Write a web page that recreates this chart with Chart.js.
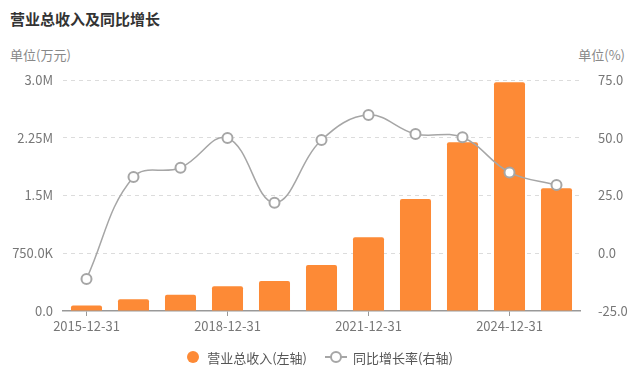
<!DOCTYPE html>
<html>
<head>
<meta charset="utf-8">
<script src="https://cdn.jsdelivr.net/npm/chart.js@4"></script>
<style>
  html, body { margin: 0; padding: 0; background: #fff; }
  body { width: 640px; height: 377px; position: relative; overflow: hidden;
    font-family: "Noto Sans CJK SC", "Noto Sans", sans-serif; }
  canvas { position: absolute; left: 0; top: 0; }
  .title { position: absolute; left: 10px; top: 8px; font-size: 15px; font-weight: bold; color: #333; }
  .unit { position: absolute; top: 45px; font-size: 13px; color: #888; }
  .legend { position: absolute; top: 346px; left: 0; width: 640px; text-align: center;
    font-size: 13px; color: #555; }
  .legend span { display: inline-block; vertical-align: middle; }
  .dot { width: 12px; height: 12px; border-radius: 50%; background: #fd8a36; margin-right: 8px; }
  .lineicon { position: relative; width: 22px; height: 12px; margin: 0 6px 0 18px; }
  .lineicon:before { content: ''; position: absolute; left: 0; right: 0; top: 5px; border-top: 2px solid #a6a6a6; }
  .lineicon:after { content: ''; position: absolute; left: 5px; top: 0; width: 8px; height: 8px;
    border: 2px solid #a6a6a6; border-radius: 50%; background: #fff; }
</style>
</head>
<body>
<div class="title">营业总收入及同比增长</div>
<div class="unit" style="left:10px">单位(万元)</div>
<div class="unit" style="right:15px">单位(%)</div>
<canvas id="chart" width="640" height="377"></canvas>
<div class="legend">
  <span class="dot"></span><span>营业总收入(左轴)</span><span class="lineicon"></span><span>同比增长率(右轴)</span>
</div>
<script>
// categories and values
const years = ['2015-12-31', '2016-12-31', '2017-12-31', '2018-12-31', '2019-12-31', '2020-12-31',
  '2021-12-31', '2022-12-31', '2023-12-31', '2024-12-31', '2025-12-31'];
const revenue = [70000, 152000, 212000, 321000, 390000, 597000, 957000, 1455000, 2190000, 2970000, 1594000];
const growth = [-11.1, 33.0, 37.0, 49.9, 21.9, 49.0, 59.8, 51.6, 50.2, 35.0, 29.5];
const leftTicks = ['0.0', '750.0K', '1.5M', '2.25M', '3.0M'];
const rightTicks = ['-25.0', '0.0', '25.0', '50.0', '75.0'];

const tickFont = { family: '"Noto Sans CJK SC", "Noto Sans", sans-serif', size: 13 };
const tickColor = '#777';

new Chart(document.getElementById('chart'), {
  type: 'bar',
  data: {
    labels: years,
    datasets: [
      {
        type: 'line',
        label: '同比增长率(右轴)',
        data: growth,
        yAxisID: 'y1',
        borderColor: '#a6a6a6',
        borderWidth: 1.5,
        tension: 0.4,
        pointRadius: 5,
        pointBackgroundColor: '#fff',
        pointBorderColor: '#a6a6a6',
        pointBorderWidth: 2,
        order: 0,
      },
      {
        label: '营业总收入(左轴)',
        data: revenue,
        yAxisID: 'y',
        backgroundColor: '#fd8a36',
        barPercentage: 0.66,
        categoryPercentage: 1,
        borderRadius: { topLeft: 2, topRight: 2 },
        borderSkipped: 'bottom',
        order: 1,
      },
    ],
  },
  options: {
    responsive: false,
    animation: false,
    layout: { padding: { left: 0, right: 0, top: 80, bottom: 36 } },
    plugins: {
      legend: { display: false },
      tooltip: { enabled: false },
    },
    scales: {
      x: {
        offset: true,
        afterFit: (s) => { s.height = 30; },
        grid: {
          offset: false,
          drawOnChartArea: false,
          tickLength: 5,
          color: (c) => (c.index % 3 === 0 ? '#999' : 'transparent'),
        },
        border: { color: '#999', width: 1.5 },
        ticks: {
          autoSkip: false,
          maxRotation: 0,
          padding: 2,
          font: tickFont,
          color: tickColor,
          callback: (v, i) => (i % 3 === 0 ? years[i] : ''),
        },
      },
      y: {
        position: 'left',
        min: 0,
        max: 3000000,
        afterFit: (s) => { s.width = 63; },
        afterBuildTicks: (s) => { s.ticks = leftTicks.map((t, i) => ({ value: i * 750000 })); },
        // dashed grid lines, no axis line
        border: { display: false, dash: [4, 4] },
        grid: {
          color: (c) => (c.index === 0 ? 'transparent' : '#dcdcdc'),
          tickLength: 0,
        },
        ticks: {
          padding: 10,
          font: tickFont,
          color: tickColor,
          callback: (v, i) => leftTicks[i],
        },
      },
      y1: {
        position: 'right',
        min: -25,
        max: 75,
        afterFit: (s) => { s.width = 60; },
        afterBuildTicks: (s) => { s.ticks = rightTicks.map((t, i) => ({ value: -25 + i * 25 })); },
        border: { display: false },
        grid: { display: false },
        ticks: {
          padding: 10,
          font: tickFont,
          color: tickColor,
          callback: (v, i) => rightTicks[i],
        },
      },
    },
  },
});
</script>
</body>
</html>
